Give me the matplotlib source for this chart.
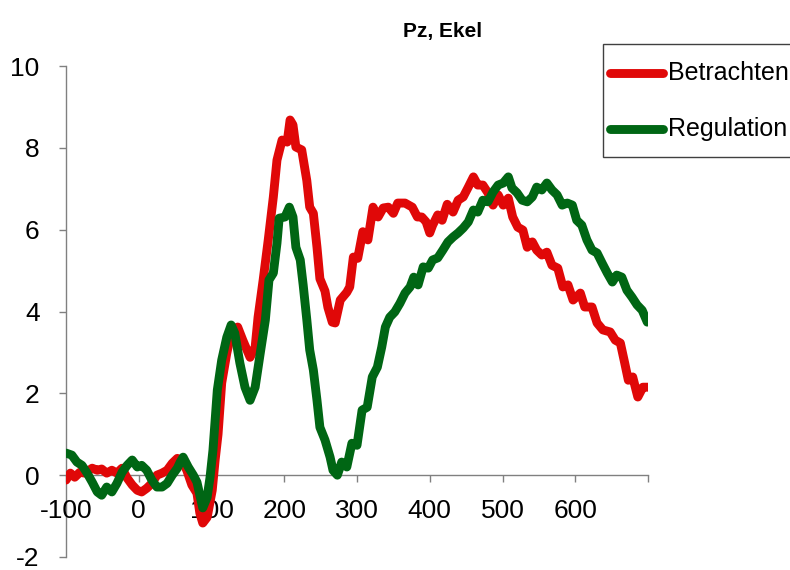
import matplotlib
matplotlib.use("Agg")
import matplotlib.pyplot as plt
from matplotlib.lines import Line2D
from matplotlib.patches import Rectangle

plt.rcParams['font.family'] = ['Liberation Sans', 'DejaVu Sans']

title = "Pz, Ekel"
series_names = ["Betrachten", "Regulation"]

t_betrachten = [-100, -94, -88, -81, -74, -64, -57, -51, -44, -37, -30, -23, -16, -9, -2, 4, 11, 18, 25, 32,
                39, 46, 53, 59, 66, 73, 80, 84, 88, 94, 101, 105, 109, 114, 121, 128, 136, 143, 153, 160,
                164, 171, 178, 185, 190, 197, 204, 208, 212, 216, 224, 231, 235, 240, 245, 249, 256, 260, 266, 270,
                277, 286, 290, 295, 301, 308, 315, 322, 329, 336, 343, 350, 356, 366, 376, 383, 389, 395, 400, 404,
                411, 417, 424, 432, 439, 446, 453, 460, 466, 473, 480, 487, 494, 501, 508, 514, 521, 528, 534, 541,
                547, 554, 561, 568, 576, 583, 590, 597, 607, 613, 623, 630, 638, 648, 655, 662, 668, 673, 679, 686,
                693, 700]
v_betrachten = [-0.12, 0.05, -0.05, 0.07, 0.05, 0.17, 0.12, 0.15, 0.05, 0.12, 0.05, 0.17, -0.07, -0.24, -0.37, -0.41, -0.32, -0.2, 0.0, 0.05,
                0.12, 0.29, 0.41, 0.37, 0.12, -0.24, -0.44, -0.93, -1.17, -1.03, -0.37, 0.37, 1.0, 2.25, 2.98, 3.55, 3.62, 3.3, 2.88, 3.13,
                3.86, 4.77, 5.75, 6.8, 7.7, 8.19, 8.14, 8.68, 8.56, 8.02, 7.95, 7.2, 6.55, 6.4, 5.57, 4.8, 4.5, 4.1, 3.74, 3.72,
                4.28, 4.47, 4.6, 5.33, 5.3, 5.95, 5.75, 6.55, 6.31, 6.53, 6.55, 6.4, 6.65, 6.65, 6.55, 6.31, 6.31, 6.19, 5.92, 6.11,
                6.36, 6.23, 6.62, 6.43, 6.72, 6.8, 7.04, 7.29, 7.09, 7.09, 6.9, 6.6, 6.85, 6.6, 6.77, 6.31, 6.06, 5.99, 5.57, 5.7,
                5.5, 5.38, 5.45, 5.13, 5.06, 4.6, 4.65, 4.28, 4.45, 4.11, 4.11, 3.72, 3.55, 3.5, 3.3, 3.23, 2.74, 2.32, 2.4, 1.91,
                2.15, 2.15]

t_regulation = [-100, -92, -85, -78, -71, -64, -57, -51, -44, -37, -30, -23, -16, -9, -2, 4, 11, 18, 25, 32,
                39, 46, 53, 57, 61, 68, 75, 80, 84, 88, 94, 98, 102, 108, 114, 121, 127, 132, 139, 146,
                153, 160, 167, 174, 179, 185, 190, 193, 201, 207, 212, 216, 222, 226, 231, 235, 240, 245, 249, 256,
                263, 267, 273, 279, 286, 293, 300, 307, 314, 321, 328, 334, 339, 345, 352, 359, 366, 373, 378, 384,
                391, 398, 404, 411, 418, 425, 432, 439, 446, 453, 460, 466, 473, 480, 487, 494, 501, 508, 513, 520,
                527, 534, 541, 547, 554, 561, 568, 575, 582, 589, 596, 602, 609, 616, 623, 630, 637, 644, 651, 657,
                664, 671, 678, 685, 692, 699]
v_regulation = [0.54, 0.49, 0.32, 0.24, 0.05, -0.17, -0.41, -0.49, -0.29, -0.41, -0.2, 0.07, 0.24, 0.37, 0.2, 0.24, 0.12, -0.12, -0.29, -0.29,
                -0.2, 0.0, 0.17, 0.32, 0.44, 0.2, 0.0, -0.17, -0.49, -0.8, -0.54, -0.05, 0.61, 2.08, 2.81, 3.37, 3.67, 3.47, 2.74, 2.15,
                1.83, 2.15, 2.98, 3.79, 4.77, 4.94, 5.67, 6.28, 6.31, 6.55, 6.31, 5.57, 5.26, 4.65, 3.8, 3.06, 2.57, 1.83, 1.17, 0.86,
                0.44, 0.12, 0.0, 0.32, 0.2, 0.78, 0.73, 1.59, 1.66, 2.4, 2.64, 3.13, 3.62, 3.86, 3.99, 4.2, 4.45, 4.6, 4.84, 4.65,
                5.09, 5.06, 5.26, 5.31, 5.5, 5.7, 5.82, 5.92, 6.04, 6.19, 6.48, 6.43, 6.72, 6.68, 6.92, 7.09, 7.14, 7.29, 7.02, 6.9,
                6.72, 6.68, 6.8, 7.04, 6.97, 7.14, 6.97, 6.85, 6.6, 6.65, 6.6, 6.23, 6.11, 5.75, 5.5, 5.43, 5.18, 4.94, 4.72, 4.89,
                4.84, 4.52, 4.35, 4.16, 4.03, 3.74]

x_ticks = [-100, 0, 100, 200, 300, 400, 500, 600, 700]
x_tick_labels = ["-100", "0", "100", "200", "300", "400", "500", "600", ""]
y_ticks = [-2, 0, 2, 4, 6, 8, 10]
y_tick_labels = ["-2", "0", "2", "4", "6", "8", "10"]

red = '#E00808'
green = '#006614'
axis_col = '#808080'

fig = plt.figure(figsize=(7.9, 5.7), dpi=100)
ax = fig.add_axes([66/790, 1-557/570, (648-66)/790, (557-66)/570])

lw = 6.4
ax.plot(t_betrachten, v_betrachten, color=red, lw=lw, solid_capstyle='round', solid_joinstyle='round',
        label=series_names[0])
ax.plot(t_regulation, v_regulation, color=green, lw=lw, solid_capstyle='round', solid_joinstyle='round',
        label=series_names[1])

ax.set_xlim(-100, 700)
ax.set_ylim(-2, 10)
ax.spines['top'].set_visible(False)
ax.spines['right'].set_visible(False)
ax.spines['bottom'].set_position(('data', 0))
for s in ('left', 'bottom'):
    ax.spines[s].set_color(axis_col)
    ax.spines[s].set_linewidth(1.0)
    ax.spines[s].set_zorder(0)

ax.set_xticks(x_ticks)
ax.set_xticklabels(x_tick_labels)
ax.set_yticks(y_ticks)
ax.set_yticklabels(y_tick_labels)
ax.tick_params(axis='x', direction='out', length=5, width=1, color=axis_col, labelsize=19, pad=12)
ax.tick_params(axis='y', direction='out', length=5, width=1, color=axis_col, labelsize=19, pad=14)

fig.text(443/790, 1-31/570, title, ha='center', va='center', fontsize=15, fontweight='bold')

# legend (manual, Excel-like box)
box = Rectangle((603/790, 1-157/570), 200/790, (157-44)/570, transform=fig.transFigure,
                facecolor='white', edgecolor='#404040', lw=1.0, zorder=5)
fig.add_artist(box)
for i, (name, col) in enumerate(zip(series_names, [red, green])):
    yy = 1 - (73 + 56*i)/570
    fig.add_artist(Line2D([610/790, 663/790], [yy, yy], transform=fig.transFigure, color=col, lw=lw,
                          solid_capstyle='round', zorder=6))
    fig.text(668/790, yy, name, ha='left', va='center', fontsize=18, zorder=7)

fig.savefig('out.png', dpi=100)
